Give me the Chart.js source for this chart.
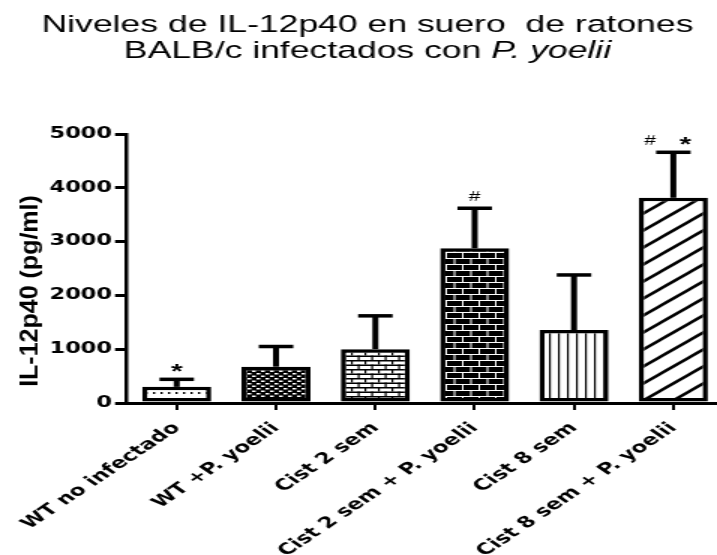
<!doctype html>
<html lang="es">
<head>
  <meta charset="utf-8" />
  <title>IL-12p40 en suero de ratones BALB/c</title>
  <script src="https://cdn.jsdelivr.net/npm/chart.js"></script>
  <style>
    html, body { margin: 0; padding: 0; background: #fff; overflow: hidden; }
    /* the graph is exported wide: everything drawn is stretched horizontally */
    #il12Chart { display: block; transform: scaleX(1.5); transform-origin: 0 0; }
  </style>
</head>
<body>
  <canvas id="il12Chart" width="482" height="555"></canvas>

<script>
  // groups, mean IL-12p40 (pg/ml) and upper error (SEM)
  const groups = ['WT no infectado', 'WT +P. yoelii', 'Cist 2 sem',
                  'Cist 2 sem + P. yoelii', 'Cist 8 sem', 'Cist 8 sem + P. yoelii'];
  const meanValues = [300, 675, 1000, 2875, 1355, 3815];
  const semValues = [140, 375, 620, 745, 1025, 845];
  const yTicks = [0, 1000, 2000, 3000, 4000, 5000];
  const sigMarks = [['*'], [], [], ['#'], [], ['#', '*']];

  const titleLine1 = 'Niveles de IL-12p40 en suero  de ratones';
  const titleLine2 = ['BALB/c infectados con ', 'P. yoelii'];
  const yTitle = 'IL-12p40 (pg/ml)';

  const STRETCH = 1.5;

  // fill patterns, one per group
  function makePattern(w, h, draw) {
    const c = document.createElement('canvas');
    c.width = w; c.height = h;
    const g = c.getContext('2d');
    draw(g, w, h);
    return g.createPattern(c, 'repeat');
  }

  const dots = makePattern(5, 6, (g, w, h) => {
    g.fillStyle = '#fff'; g.fillRect(0, 0, w, h);
    g.fillStyle = '#000'; g.fillRect(2, 2, 1.4, 2);
  });
  const weave = makePattern(6, 5, (g, w, h) => {
    g.fillStyle = '#000'; g.fillRect(0, 0, w, h);
    g.fillStyle = '#fff';
    g.fillRect(0, 0.5, 2.5, 1.5);
    g.fillRect(3, 3, 2.5, 1.5);
  });
  const whiteBricks = makePattern(9, 9, (g, w, h) => {
    g.fillStyle = '#fff'; g.fillRect(0, 0, w, h);
    g.fillStyle = '#000';
    g.fillRect(0, 0, w, 1.5);
    g.fillRect(0, 4.5, w, 1.5);
    g.fillRect(0, 0, 1.2, 4.5);
    g.fillRect(4.5, 4.5, 1.2, 4.5);
  });
  const blackBricks = makePattern(11, 12, (g, w, h) => {
    g.fillStyle = '#000'; g.fillRect(0, 0, w, h);
    g.fillStyle = '#fff';
    g.fillRect(0, 0, w, 1);
    g.fillRect(0, 6, w, 1);
    g.fillRect(0, 1, 1, 5);
    g.fillRect(5.5, 7, 1, 5);
  });
  const vLines = makePattern(6, 4, (g, w, h) => {
    g.fillStyle = '#fff'; g.fillRect(0, 0, w, h);
    g.fillStyle = '#000'; g.fillRect(0, 0, 1.2, h);
  });
  const diagonal = makePattern(20, 17, (g, w, h) => {
    g.fillStyle = '#fff'; g.fillRect(0, 0, w, h);
    g.strokeStyle = '#000'; g.lineWidth = 2.5;
    for (let k = -1; k <= 1; k++) {
      g.beginPath();
      g.moveTo(-w, 2 * h + k * h);
      g.lineTo(2 * w, -h + k * h);
      g.stroke();
    }
  });
  const fills = [dots, weave, whiteBricks, blackBricks, vLines, diagonal];

  const yTickFont = { family: 'DejaVu Sans', weight: 'bold', size: 15 };
  const xTickFont = { family: 'DejaVu Sans', weight: 'bold', size: 15.5 };

  // two-line title, second line partly italic
  const titlePlugin = {
    id: 'twoLineTitle',
    afterDraw(chart) {
      const ctx = chart.ctx;
      const cx = 245;
      ctx.save();
      ctx.fillStyle = '#000';
      ctx.textBaseline = 'alphabetic';
      ctx.textAlign = 'left';
      const regular = '23.7px "Liberation Sans", Arial, sans-serif';
      const italic = 'italic 23.7px "Liberation Sans", Arial, sans-serif';
      ctx.font = regular;
      const w0 = ctx.measureText(titleLine1).width;
      ctx.fillText(titleLine1, cx - w0 / 2, 32);
      const w1 = ctx.measureText(titleLine2[0]).width;
      ctx.font = italic;
      const w2 = ctx.measureText(titleLine2[1]).width;
      const x0 = cx - (w1 + w2) / 2;
      ctx.font = regular;
      ctx.fillText(titleLine2[0], x0, 58);
      ctx.font = italic;
      ctx.fillText(titleLine2[1], x0 + w1, 58);
      ctx.restore();
    }
  };

  // y axis title, kept at its natural width (undo the css stretch)
  const yTitlePlugin = {
    id: 'yTitle',
    afterDraw(chart) {
      const ctx = chart.ctx;
      ctx.save();
      ctx.translate(20, 291);
      ctx.scale(1 / STRETCH, 1);
      ctx.rotate(-Math.PI / 2);
      ctx.fillStyle = '#000';
      ctx.font = 'bold 25px "Liberation Sans", Arial, sans-serif';
      ctx.textAlign = 'center';
      ctx.textBaseline = 'middle';
      ctx.fillText(yTitle, 0, 0);
      ctx.restore();
    }
  };

  // upper error bars and significance marks
  const errorPlugin = {
    id: 'errorBars',
    afterDatasetsDraw(chart) {
      const ctx = chart.ctx;
      const yScale = chart.scales.y;
      const bars = chart.getDatasetMeta(0).data;
      ctx.save();
      ctx.strokeStyle = '#000';
      ctx.fillStyle = '#000';
      ctx.lineCap = 'butt';
      bars.forEach((bar, i) => {
        const top = yScale.getPixelForValue(meanValues[i] + semValues[i]);
        ctx.lineWidth = 4;
        ctx.beginPath();
        ctx.moveTo(bar.x, bar.y);
        ctx.lineTo(bar.x, top);
        ctx.stroke();
        ctx.lineWidth = 3.5;
        ctx.beginPath();
        ctx.moveTo(bar.x - 11.5, top);
        ctx.lineTo(bar.x + 11.5, top);
        ctx.stroke();

        const marks = sigMarks[i];
        const offsets = marks.length > 1 ? [-15.5, 8] : [0];
        marks.forEach((m, j) => {
          ctx.textAlign = 'center';
          ctx.textBaseline = 'alphabetic';
          if (m === '*') {
            ctx.font = 'bold 20px "Liberation Sans", Arial, sans-serif';
            ctx.fillText(m, bar.x + offsets[j], top - 1);
          } else {
            ctx.font = '14px "Liberation Sans", Arial, sans-serif';
            ctx.fillText(m, bar.x + offsets[j], top - 7);
          }
        });
      });
      ctx.restore();
    }
  };

  const ctx = document.getElementById('il12Chart').getContext('2d');
  const il12Chart = new Chart(ctx, {
    type: 'bar',
    data: {
      labels: groups,
      datasets: [{
        data: meanValues,
        backgroundColor: fills,
        borderColor: '#000',
        borderWidth: 3.5,
        borderSkipped: false,
        barPercentage: 0.695,
        categoryPercentage: 1
      }]
    },
    options: {
      responsive: false,
      animation: false,
      layout: { padding: { top: 134, left: 0, right: 0, bottom: 0 } },
      plugins: {
        legend: { display: false },
        tooltip: { enabled: false },
        title: { display: false }
      },
      scales: {
        x: {
          offset: true,
          grid: { drawOnChartArea: false, offset: false, tickLength: 7, lineWidth: 2, color: '#000' },
          border: { display: true, color: '#000', width: 3 },
          ticks: { autoSkip: false, minRotation: 45, maxRotation: 45, color: '#000', padding: 9, font: xTickFont },
          afterFit: s => { s.height = 152; }
        },
        y: {
          min: 0,
          max: 5000,
          afterBuildTicks: s => { s.ticks = yTicks.map(v => ({ value: v })); },
          grid: { drawOnChartArea: false, tickLength: 8, lineWidth: 3, color: '#000' },
          border: { display: true, color: '#000', width: 2.5 },
          ticks: { color: '#000', padding: 2, font: yTickFont, callback: v => String(v) },
          afterFit: s => { s.width = 84.7; }
        }
      }
    },
    plugins: [titlePlugin, yTitlePlugin, errorPlugin]
  });
</script>
</body>
</html>
